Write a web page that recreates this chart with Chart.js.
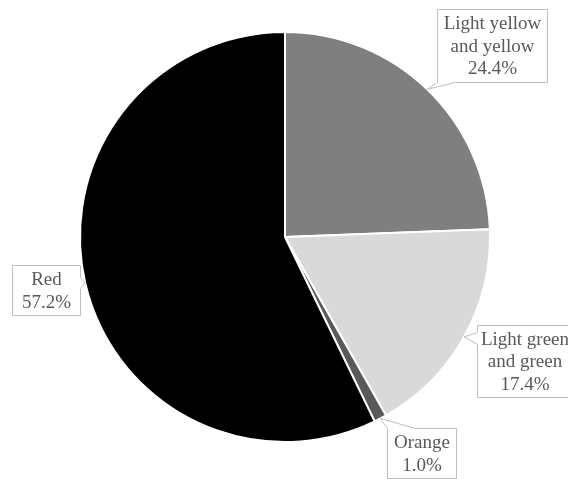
<!DOCTYPE html>
<html>
<head>
<meta charset="utf-8">
<style>
  html, body { margin: 0; padding: 0; background: #ffffff; }
  #wrap { width: 568px; height: 479px; }
</style>
<script src="https://cdn.jsdelivr.net/npm/chart.js@4/dist/chart.umd.min.js"></script>
</head>
<body>
<div id="wrap"><canvas id="pie" width="568" height="479"></canvas></div>
<script>
// Colour categories (each label split into its display lines)
const categories = [
  ['Light yellow', 'and yellow'],
  ['Light green', 'and green'],
  ['Orange'],
  ['Red']
];
// Share of each category, percent
const shares = [24.4, 17.4, 1.0, 57.2];
// Slice fills
const sliceColors = ['#7f7f7f', '#d9d9d9', '#595959', '#000000'];

// Callout boxes: offset of the box's top-left corner from the slice's outer mid-point,
// box size, and where the pointer leaves the box outline.
const calloutLayout = [
  { dx: 10, dy: -80, w: 110, h: 73, side: 'bottom', from: 0, to: 18 },
  { dx: 13, dy: -12, w: 95, h: 72, side: 'left', from: 7, to: 19 },
  { dx: 7, dy: 10, w: 69, h: 50, side: 'top', from: 0, to: 28 },
  { dx: -73, dy: -18, w: 68, h: 50, side: 'right', from: 12, to: 23 }
];

const calloutPlugin = {
  id: 'callouts',
  afterDatasetsDraw(chart, args, opts) {
    const ctx = chart.ctx;
    const meta = chart.getDatasetMeta(0);
    const data = chart.data.datasets[0].data;
    meta.data.forEach((arc, i) => {
      const p = arc.getProps(['x', 'y', 'startAngle', 'endAngle', 'outerRadius'], true);
      const mid = (p.startAngle + p.endAngle) / 2;
      const tx = p.x + Math.cos(mid) * p.outerRadius;
      const ty = p.y + Math.sin(mid) * p.outerRadius;
      const L = opts.layout[i];
      const bx = Math.round(tx + L.dx) + 0.5;
      const by = Math.round(ty + L.dy) + 0.5;
      const bw = L.w, bh = L.h;

      // outline with pointer
      ctx.save();
      ctx.beginPath();
      const pts = [];
      const top = [[bx, by], [bx + bw, by]];
      const right = [[bx + bw, by], [bx + bw, by + bh]];
      const bottom = [[bx + bw, by + bh], [bx, by + bh]];
      const left = [[bx, by + bh], [bx, by]];
      const edges = { top, right, bottom, left };
      ['top', 'right', 'bottom', 'left'].forEach(side => {
        const [a, b] = edges[side];
        pts.push(a);
        if (side === L.side) {
          let p1, p2;
          if (side === 'top') { p1 = [bx + L.from, by]; p2 = [bx + L.to, by]; }
          if (side === 'right') { p1 = [bx + bw, by + L.from]; p2 = [bx + bw, by + L.to]; }
          if (side === 'bottom') { p1 = [bx + L.to, by + bh]; p2 = [bx + L.from, by + bh]; }
          if (side === 'left') { p1 = [bx, by + L.to]; p2 = [bx, by + L.from]; }
          pts.push(p1, [tx, ty], p2);
        }
      });
      pts.forEach((q, k) => k ? ctx.lineTo(q[0], q[1]) : ctx.moveTo(q[0], q[1]));
      ctx.closePath();
      ctx.fillStyle = '#ffffff';
      ctx.fill();
      ctx.strokeStyle = '#bfbfbf';
      ctx.lineWidth = 1;
      ctx.stroke();

      // text
      const lines = [].concat(chart.data.labels[i], data[i].toFixed(1) + '%');
      ctx.fillStyle = '#595959';
      ctx.font = '19px "Liberation Serif", "Times New Roman", serif';
      ctx.textAlign = 'center';
      ctx.textBaseline = 'middle';
      const lh = 22.5;
      const cx = bx + bw / 2;
      const cy = by + bh / 2;
      lines.forEach((t, k) => {
        ctx.fillText(t, cx, cy + (k - (lines.length - 1) / 2) * lh + 1);
      });
      ctx.restore();
    });
  }
};

new Chart(document.getElementById('pie'), {
  type: 'pie',
  data: {
    labels: categories,
    datasets: [{
      data: shares,
      backgroundColor: sliceColors,
      borderColor: '#ffffff',
      borderWidth: 2
    }]
  },
  options: {
    responsive: false,
    animation: false,
    layout: { padding: { left: 79, right: 77, top: 31, bottom: 36 } },
    plugins: {
      legend: { display: false },
      tooltip: { enabled: false },
      callouts: { layout: calloutLayout }
    }
  },
  plugins: [calloutPlugin]
});
</script>
</body>
</html>
